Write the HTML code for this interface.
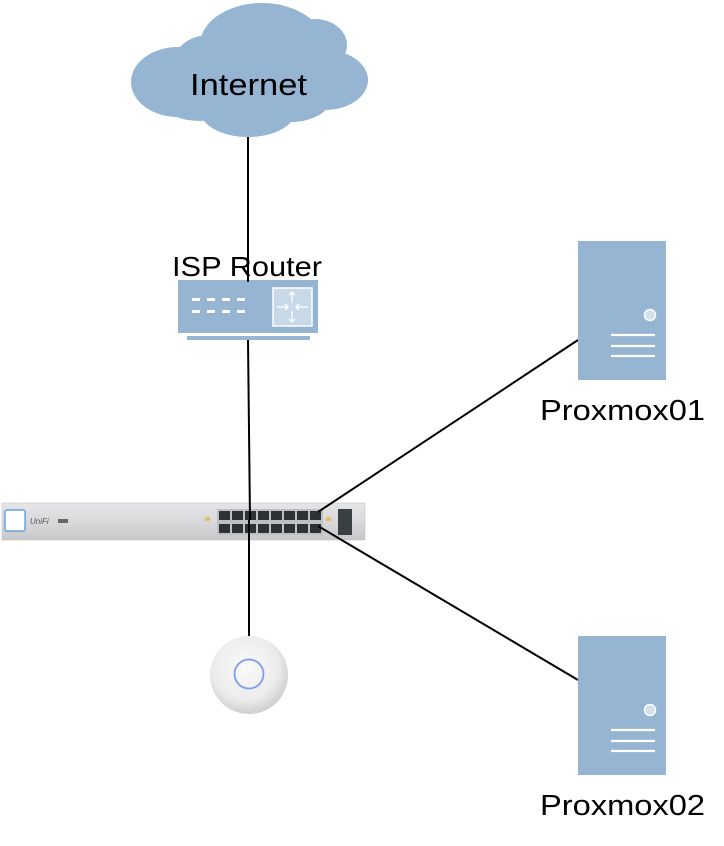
<!DOCTYPE html>
<html><head><meta charset="utf-8"><style>
body{margin:0;background:#fff;width:724px;height:846px;overflow:hidden}
svg{display:block}
text{font-family:"Liberation Sans",sans-serif;fill:#000}
</style></head><body>
<svg width="724" height="846" viewBox="0 0 724 846">
<defs>
<radialGradient id="ap" cx="45%" cy="40%" r="60%"><stop offset="0" stop-color="#fafafa"/><stop offset="0.7" stop-color="#ececec"/><stop offset="1" stop-color="#cfcfcf"/></radialGradient>
<linearGradient id="sw" x1="0" y1="0" x2="0" y2="1"><stop offset="0" stop-color="#e6e6e8"/><stop offset="0.5" stop-color="#d9d9dc"/><stop offset="1" stop-color="#c8c8cc"/></linearGradient>
</defs>
<!-- cloud -->
<g fill="#95b5d3">
<ellipse cx="178" cy="82" rx="47" ry="35"/>
<ellipse cx="210" cy="60" rx="35" ry="25"/>
<ellipse cx="262" cy="45" rx="62" ry="42"/>
<ellipse cx="315" cy="45" rx="32" ry="26"/>
<ellipse cx="325" cy="80" rx="43" ry="30"/>
<ellipse cx="290" cy="100" rx="40" ry="22"/>
<ellipse cx="248" cy="110" rx="48" ry="27"/>
<ellipse cx="200" cy="105" rx="35" ry="16"/>
<ellipse cx="250" cy="80" rx="90" ry="30"/>
</g>
<text x="190" y="95" font-size="31" textLength="117" lengthAdjust="spacingAndGlyphs">Internet</text>
<!-- router -->
<text x="172" y="276" font-size="28" textLength="150" lengthAdjust="spacingAndGlyphs">ISP Router</text>
<rect x="178" y="280" width="140" height="53" fill="#95b5d3"/>
<rect x="187" y="336" width="123" height="4" fill="#95b5d3"/>
<g fill="#fff">
<rect x="192" y="298" width="8" height="3"/><rect x="207" y="298" width="8" height="3"/><rect x="222" y="298" width="8" height="3"/><rect x="237" y="298" width="8" height="3"/>
<rect x="192" y="310" width="8" height="3"/><rect x="207" y="310" width="8" height="3"/><rect x="222" y="310" width="8" height="3"/><rect x="237" y="310" width="8" height="3"/>
</g>
<rect x="273" y="288" width="39" height="38" fill="#c7d8e8" stroke="#fff" stroke-width="1.5"/>
<g stroke="#fff" stroke-width="1.3" fill="none">
<line x1="292" y1="292" x2="292" y2="303"/><line x1="292" y1="311" x2="292" y2="322"/>
<line x1="277" y1="307" x2="288" y2="307"/><line x1="296" y1="307" x2="308" y2="307"/>
<polyline points="289,295 292,292 295,295"/><polyline points="289,319 292,322 295,319"/>
<polyline points="285,304 288,307 285,310"/><polyline points="299,304 296,307 299,310"/>
</g>
<!-- switch -->
<rect x="2" y="503" width="363" height="37" fill="url(#sw)" stroke="#bbb" stroke-width="0.5"/>
<rect x="5" y="510" width="20" height="21" fill="#fff" stroke="#4a90e2" stroke-width="1.2" rx="2"/>
<text x="30" y="524" font-size="8" style="fill:#555" font-style="italic">UniFi</text>
<rect x="58" y="519" width="10" height="4" fill="#666"/>
<rect x="217" y="509" width="106" height="26" fill="#bfc0c2"/>
<g fill="#2d3237">
<rect x="219" y="511" width="11" height="9"/><rect x="232" y="511" width="11" height="9"/><rect x="245" y="511" width="11" height="9"/><rect x="258" y="511" width="11" height="9"/><rect x="271" y="511" width="11" height="9"/><rect x="284" y="511" width="11" height="9"/><rect x="297" y="511" width="11" height="9"/><rect x="310" y="511" width="11" height="9"/>
<rect x="219" y="524" width="11" height="9"/><rect x="232" y="524" width="11" height="9"/><rect x="245" y="524" width="11" height="9"/><rect x="258" y="524" width="11" height="9"/><rect x="271" y="524" width="11" height="9"/><rect x="284" y="524" width="11" height="9"/><rect x="297" y="524" width="11" height="9"/><rect x="310" y="524" width="11" height="9"/>
</g>
<rect x="338" y="509" width="14" height="26" fill="#3a3f44"/>
<rect x="205" y="517" width="5" height="4" fill="#e0c060"/>
<rect x="326" y="517" width="5" height="4" fill="#e0c060"/>
<!-- lines (on top) -->
<g stroke="#000" stroke-width="2" fill="none">
<line x1="248" y1="137" x2="248" y2="282"/>
<line x1="248" y1="340" x2="250" y2="520"/>
<line x1="249" y1="520" x2="249" y2="636"/>
<line x1="318" y1="512" x2="578" y2="340"/>
<line x1="318" y1="526" x2="578" y2="680"/>
</g>
<!-- AP -->
<circle cx="249" cy="675" r="39" fill="url(#ap)"/>
<circle cx="249" cy="674" r="14.5" fill="none" stroke="#7b9cf0" stroke-width="1.8"/>
<!-- servers -->
<g>
<rect x="578" y="241" width="88" height="139" fill="#95b5d3"/>
<circle cx="650" cy="315" r="5.5" fill="#d0e0ee" stroke="#fff" stroke-width="1.5"/>
<g stroke="#fff" stroke-width="2.2"><line x1="611" y1="335" x2="655" y2="335"/><line x1="611" y1="346" x2="655" y2="346"/><line x1="611" y1="356" x2="655" y2="356"/></g>
<text x="540" y="420" font-size="29" textLength="165" lengthAdjust="spacingAndGlyphs">Proxmox01</text>
</g>
<g transform="translate(0,395)">
<rect x="578" y="241" width="88" height="139" fill="#95b5d3"/>
<circle cx="650" cy="315" r="5.5" fill="#d0e0ee" stroke="#fff" stroke-width="1.5"/>
<g stroke="#fff" stroke-width="2.2"><line x1="611" y1="335" x2="655" y2="335"/><line x1="611" y1="346" x2="655" y2="346"/><line x1="611" y1="356" x2="655" y2="356"/></g>
<text x="540" y="420" font-size="29" textLength="165" lengthAdjust="spacingAndGlyphs">Proxmox02</text>
</g>
</svg>
</body></html>
